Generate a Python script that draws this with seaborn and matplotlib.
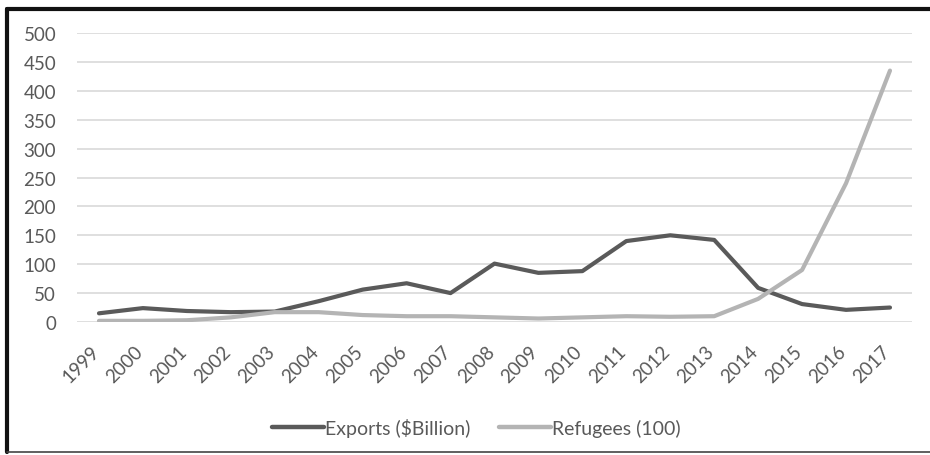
import matplotlib
matplotlib.use("Agg")
import matplotlib.pyplot as plt
import matplotlib.transforms as mtransforms
import seaborn as sns
import pandas as pd
from matplotlib.lines import Line2D

years = ["1999", "2000", "2001", "2002", "2003", "2004", "2005", "2006", "2007", "2008",
         "2009", "2010", "2011", "2012", "2013", "2014", "2015", "2016", "2017"]
exports = [15, 24, 19, 17, 18, 36, 56, 67, 50, 101, 85, 88, 140, 150, 142, 59, 31, 21, 25]
refugees = [2, 2, 3, 8, 17, 17, 12, 10, 10, 8, 6, 8, 10, 9, 10, 40, 90, 240, 435]

series_names = ["Exports ($Billion)", "Refugees (100)"]
series_colors = ["#5a5a5a", "#b4b4b4"]

df = pd.DataFrame({
    "idx": list(range(len(years))) * 2,
    "value": exports + refugees,
    "series": [series_names[0]] * len(years) + [series_names[1]] * len(years),
})

sns.set_theme(style="white")
plt.rcParams["font.family"] = ["Lato", "DejaVu Sans"]

fig = plt.figure(figsize=(9.3, 4.56), dpi=100)
ax = fig.add_axes([0.0828, 0.2917, 0.8978, 0.6337])

sns.lineplot(data=df, x="idx", y="value", hue="series", palette=series_colors,
             linewidth=3, legend=False, ax=ax, zorder=3)

ax.set_xlim(-0.5, len(years) - 0.5)
ax.set_ylim(0, 500)
ax.set_yticks(range(0, 501, 50))
ax.set_xticks(range(len(years)))
ax.set_xticklabels(years, rotation=45, ha="right", va="center", rotation_mode="anchor")
ax.set_xlabel("")
ax.set_ylabel("")
for s in ax.spines.values():
    s.set_visible(False)
ax.grid(axis="y", color="#d9d9d9", linewidth=1.2)
ax.grid(axis="x", visible=False)
ax.tick_params(axis="both", length=0, colors="#595959", labelsize=13.5)
ax.tick_params(axis="y", pad=15)
ax.tick_params(axis="x", pad=19)
shift = mtransforms.ScaledTranslation(-3 / 100, 0, fig.dpi_scale_trans)
for lbl in ax.get_xticklabels():
    lbl.set_transform(lbl.get_transform() + shift)

handles = [Line2D([0], [0], color=c, linewidth=3.2) for c in series_colors]
fig.legend(handles, series_names, loc="center", bbox_to_anchor=(0.512, 0.061),
           ncol=2, frameon=False, fontsize=14, handlelength=2.7, handletextpad=0.05,
           columnspacing=1.45, labelcolor="#595959")

# frame around the chart
fig.add_artist(Line2D([0.007, 1.0], [0.978, 0.978], transform=fig.transFigure,
                      color="#111111", linewidth=3))
fig.add_artist(Line2D([0.008, 0.008], [0.006, 0.978], transform=fig.transFigure,
                      color="#111111", linewidth=3))
fig.add_artist(Line2D([0.007, 1.0], [0.0066, 0.0066], transform=fig.transFigure,
                      color="#444444", linewidth=1.2))

fig.savefig("out.png", dpi=100)
